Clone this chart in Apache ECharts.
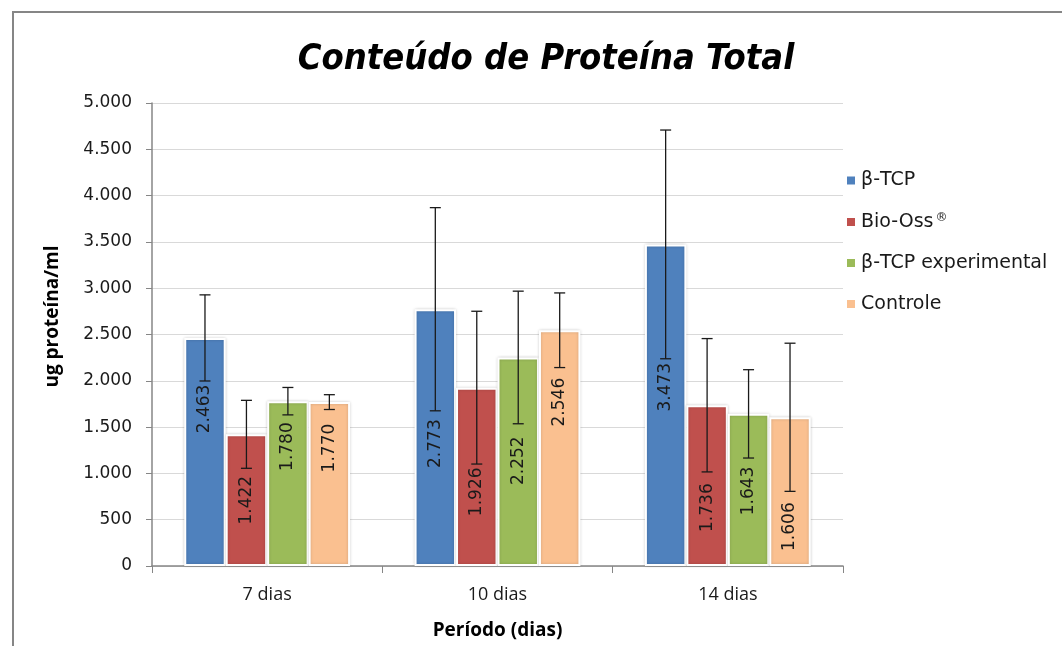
<!DOCTYPE html>
<html>
<head>
<meta charset="utf-8">
<script src="https://cdn.jsdelivr.net/npm/echarts@6/dist/echarts.min.js"></script>
<style>
  html, body { margin: 0; padding: 0; background: #fff; }
  #chart { width: 1062px; height: 646px; }
</style>
</head>
<body>
<div id="chart"></div>
<script>
// dados
var periodos = ["7 dias", "10 dias", "14 dias"];
var grupos = ["β-TCP", "Bio-Oss®", "β-TCP experimental", "Controle"];
var betaTcp = [2463, 2773, 3473];
var bioOss = [1422, 1926, 1736];
var betaTcpExp = [1780, 2252, 1643];
var controle = [1770, 2546, 1606];
// desvio (barras de erro, simétricas)
var errBetaTcp = [465, 1097, 1235];
var errBioOss = [367, 825, 720];
var errBetaTcpExp = [148, 716, 477];
var errControle = [80, 403, 800];

var valores = [betaTcp, bioOss, betaTcpExp, controle];
var erros = [errBetaTcp, errBioOss, errBetaTcpExp, errControle];

// estilo
var cores = ["#4F81BD", "#C0504D", "#9BBB59", "#FAC090"];
var gapCategoria = 0.28;
// deslocamento vertical dos rótulos (px, positivo = para baixo), como no original
var rotuloShift = [
  [-43, 6, -18],
  [0, 15, 22],
  [-37, -1, 1],
  [-36, -46, 35]
];

function fmtMil(v) {
  v = Math.round(v);
  if (v < 1000) return String(v);
  var r = String(v % 1000);
  while (r.length < 3) r = "0" + r;
  return Math.floor(v / 1000) + "." + r;
}

var chart = echarts.init(document.getElementById("chart"));

var series = grupos.map(function (nome, s) {
  return {
    name: nome,
    type: "bar",
    barGap: "0%",
    barCategoryGap: (gapCategoria * 100) + "%",
    itemStyle: {
      color: cores[s],
      borderColor: "#fff",
      borderWidth: 2,
      shadowColor: "rgba(0,0,0,0.18)",
      shadowBlur: 3
    },
    label: {
      show: true,
      position: "inside",
      rotate: 90,
      fontFamily: "DejaVu Sans",
      fontSize: 17,
      color: "#1a1a1a",
      formatter: function (p) { return fmtMil(p.value); }
    },
    // o rótulo está girado 90°, então o deslocamento vertical vai no eixo x local
    data: valores[s].map(function (v, i) {
      return { value: v, label: { offset: [-rotuloShift[s][i], 0] } };
    }),
    z: 2
  };
});

var errData = [];
valores.forEach(function (arr, s) {
  arr.forEach(function (v, i) {
    errData.push([i, v, erros[s][i], s]);
  });
});

series.push({
  name: "erro",
  type: "custom",
  z: 5,
  silent: true,
  data: errData,
  encode: { x: 0, y: 1 },
  renderItem: function (params, api) {
    var cat = api.value(0), v = api.value(1), e = api.value(2), s = api.value(3);
    var band = api.size([1, 0])[0];
    var barW = band * (1 - gapCategoria) / grupos.length;
    var cx = api.coord([cat, 0])[0] + (s - (grupos.length - 1) / 2) * barW;
    var yTop = api.coord([cat, v + e])[1];
    var yBot = api.coord([cat, v - e])[1];
    var cap = 5.5;
    var st = { stroke: "#1a1a1a", lineWidth: 1.3 };
    return {
      type: "group",
      children: [
        { type: "line", shape: { x1: cx, y1: yTop, x2: cx, y2: yBot }, style: st },
        { type: "line", shape: { x1: cx - cap, y1: yTop, x2: cx + cap, y2: yTop }, style: st },
        { type: "line", shape: { x1: cx - cap, y1: yBot, x2: cx + cap, y2: yBot }, style: st }
      ]
    };
  }
});

chart.setOption({
  backgroundColor: "#fff",
  animation: false,
  title: {
    text: "Conteúdo de Proteína Total",
    left: 541,
    textAlign: "center",
    top: 37,
    textStyle: {
      fontFamily: "DejaVu Sans Condensed, sans-serif",
      fontStyle: "italic",
      fontWeight: "bold",
      fontSize: 36,
      color: "#000"
    }
  },
  graphic: [{
    type: "rect",
    shape: { x: 13, y: 12, width: 1100, height: 700 },
    style: { fill: null, stroke: "#868686", lineWidth: 2 },
    silent: true
  }],
  legend: {
    data: grupos,
    orient: "vertical",
    left: 840,
    top: 166,
    icon: "rect",
    itemWidth: 10,
    itemHeight: 10,
    itemGap: 22,
    formatter: function (nome) {
      return nome.indexOf("®") >= 0 ? nome.replace("®", "") + "{sup|®}" : nome;
    },
    textStyle: {
      fontFamily: "DejaVu Sans", fontSize: 19, color: "#1a1a1a",
      rich: {
        sup: { fontFamily: "DejaVu Sans", fontSize: 12, color: "#1a1a1a", verticalAlign: "top", padding: [0, 0, 8, 2] }
      }
    }
  },
  grid: { left: 152, right: 219, top: 103, bottom: 80 },
  xAxis: {
    type: "category",
    data: periodos,
    name: "Período (dias)",
    nameLocation: "middle",
    nameGap: 55,
    nameTextStyle: { fontFamily: "Open Sans", fontWeight: "bold", fontSize: 19, color: "#000" },
    axisLine: { lineStyle: { color: "#868686", width: 1.5 } },
    axisTick: { show: true, length: 7, lineStyle: { color: "#868686" } },
    axisLabel: { fontFamily: "Open Sans", fontSize: 18, color: "#1a1a1a", margin: 20 }
  },
  yAxis: {
    type: "value",
    min: 0,
    max: 5000,
    interval: 500,
    name: "ug proteína/ml",
    nameLocation: "middle",
    nameGap: 90,
    nameTextStyle: { fontFamily: "Open Sans", fontWeight: "bold", fontSize: 19, color: "#000", padding: [0, 0, 0, 36] },
    axisLine: { show: true, lineStyle: { color: "#868686", width: 1.5 } },
    axisTick: { show: true, length: 6, lineStyle: { color: "#868686" } },
    axisLabel: {
      fontFamily: "DejaVu Sans", fontSize: 17, color: "#1a1a1a", margin: 20,
      formatter: function (v) { return fmtMil(v); }
    },
    splitLine: { lineStyle: { color: "#d9d9d9", width: 1.2 } }
  },
  series: series
});
</script>
</body>
</html>
